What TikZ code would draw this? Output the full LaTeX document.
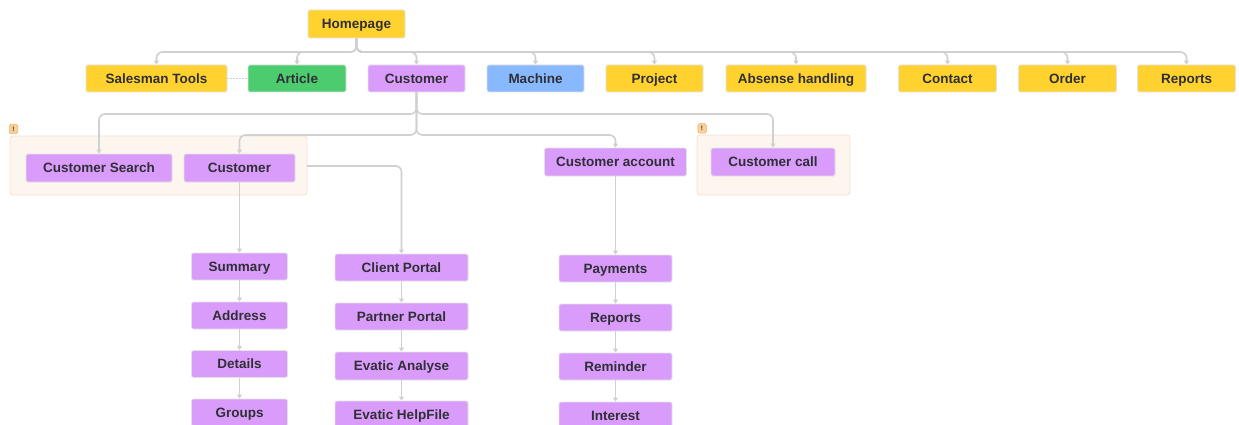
\documentclass[tikz,border=0pt]{standalone}
\usepackage{fontspec}
\setmainfont{Liberation Sans}
\usetikzlibrary{arrows.meta}
\definecolor{cyellow}{HTML}{FFD22F}
\definecolor{cpurple}{HTML}{DA9CFB}
\definecolor{cgreen}{HTML}{4CCB6F}
\definecolor{cblue}{HTML}{88B8FD}
\definecolor{ctext}{HTML}{2F2F35}
\definecolor{cline}{HTML}{D0D0D0}
\definecolor{cnbord}{HTML}{E2E2E2}
\definecolor{cgfill}{HTML}{FDF6EE}
\definecolor{cgbord}{HTML}{EEE3D4}
\definecolor{cbadge}{HTML}{FBCF98}
\definecolor{cbadgeb}{HTML}{E9B070}
\tikzset{
  box/.style={draw=cnbord, line width=0.8pt, rounded corners=1.5pt, inner sep=0pt,
    minimum height=27pt, text height=9.8pt, text depth=0.6pt, text=ctext,
    font=\fontsize{13.5}{15}\selectfont\bfseries, anchor=center},
  ybox/.style={box, fill=cyellow},
  pbox/.style={box, fill=cpurple},
  conn/.style={draw=cline, line width=1.6pt, rounded corners=6pt,
    -{Triangle[length=4pt,width=5pt]}},
  grp/.style={draw=cgbord, fill=cgfill, line width=0.8pt, rounded corners=3pt},
  badge/.style={draw=cbadgeb, fill=cbadge, line width=0.5pt, rounded corners=1.5pt,
    minimum width=8.5pt, minimum height=9.5pt, inner sep=0pt, font=\fontsize{6.5}{6.5}\selectfont\bfseries, text=ctext}
}
\begin{document}
\begin{tikzpicture}[x=1pt,y=-1pt]
\useasboundingbox (0,0) rectangle (1239,425);
% groups
\draw[grp] (10,136) rectangle (307,195);
\coordinate (grpLne) at (307,136);
\draw[grp] (697,135) rectangle (850,195);
\node[badge] (b1) at (13.5,129) {!};
\node[badge] (b2) at (702,128.5) {!};
% top
\node[ybox, minimum width=97pt, minimum height=28pt] (home) at (356.5,24) {Homepage};
\node[ybox, minimum width=141pt] (sales) at (156.5,78.5) {Salesman Tools};
\node[box, fill=cgreen, minimum width=98pt] (article) at (297,78.5) {Article};
\node[pbox, minimum width=97pt] (custT) at (416.5,78.5) {Customer};
\node[box, fill=cblue, minimum width=97pt] (machine) at (535.5,78.5) {Machine};
\node[ybox, minimum width=97pt] (project) at (654.5,78.5) {Project};
\node[ybox, minimum width=140pt] (absense) at (796,78.5) {Absense handling};
\node[ybox, minimum width=98pt] (contact) at (947.5,78.5) {Contact};
\node[ybox, minimum width=98pt] (order) at (1067.5,78.5) {Order};
\node[ybox, minimum width=98pt] (reportsT) at (1186.5,78.5) {Reports};
% second level
\node[pbox, minimum width=146pt, minimum height=28pt] (csearch) at (99,168) {Customer Search};
\node[pbox, minimum width=111pt, minimum height=28pt] (cin) at (239.5,168) {Customer};
\node[pbox, minimum width=142pt, minimum height=28pt] (cacc) at (615.5,162) {Customer account};
\node[pbox, minimum width=124pt, minimum height=28pt] (ccall) at (773,162) {Customer call};
% columns
\node[pbox, minimum width=96pt] (sum) at (239.5,266.5) {Summary};
\node[pbox, minimum width=96pt] (addr) at (239.5,315.5) {Address};
\node[pbox, minimum width=96pt] (det) at (239.5,364) {Details};
\node[pbox, minimum width=96pt] (grps) at (239.5,412.5) {Groups};
\node[pbox, minimum width=133pt] (client) at (401.5,267.5) {Client Portal};
\node[pbox, minimum width=133pt] (partner) at (401.5,316.5) {Partner Portal};
\node[pbox, minimum width=133pt, minimum height=28pt] (analyse) at (401.5,366) {Evatic Analyse};
\node[pbox, minimum width=133pt, minimum height=28pt] (help) at (401.5,415) {Evatic HelpFile};
\node[pbox, minimum width=113pt] (pay) at (615.5,268.5) {Payments};
\node[pbox, minimum width=113pt] (rep) at (615.5,317.5) {Reports};
\node[pbox, minimum width=113pt] (remind) at (615.5,366.5) {Reminder};
\node[pbox, minimum width=113pt, minimum height=28pt] (interest) at (615.5,416) {Interest};
% buses
\coordinate (hbus) at (0,52);
\coordinate (cbus1) at (0,114);
\coordinate (cbus2) at (0,135);
\foreach \n in {sales,article,custT,machine,project,absense,contact,order,reportsT}{
  \draw[conn] (home.south) |- (\n.north |- hbus) -- (\n.north);
}
\draw[conn] (custT.south) |- (csearch.north |- cbus1) -- (csearch.north);
\draw[conn] (custT.south) |- (ccall.north |- cbus1) -- (ccall.north);
\draw[conn] (custT.south) |- (cin.north |- cbus2) -- (cin.north);
\draw[conn] (custT.south) |- (cacc.north |- cbus2) -- (cacc.north);
\draw[conn] (grpLne |- 0,166) -| (client.north);
\draw[conn] (cin.south) -- (sum.north);
\draw[conn] (cacc.south) -- (pay.north);
\draw[conn] (sum.south) -- (addr.north);
\draw[conn] (addr.south) -- (det.north);
\draw[conn] (det.south) -- (grps.north);
\draw[conn] (client.south) -- (partner.north);
\draw[conn] (partner.south) -- (analyse.north);
\draw[conn] (analyse.south) -- (help.north);
\draw[conn] (pay.south) -- (rep.north);
\draw[conn] (rep.south) -- (remind.north);
\draw[conn] (remind.south) -- (interest.north);
\draw[draw=cline, line width=1pt, dash pattern=on 2pt off 1pt] (sales.east) -- (article.west);
\end{tikzpicture}
\end{document}
